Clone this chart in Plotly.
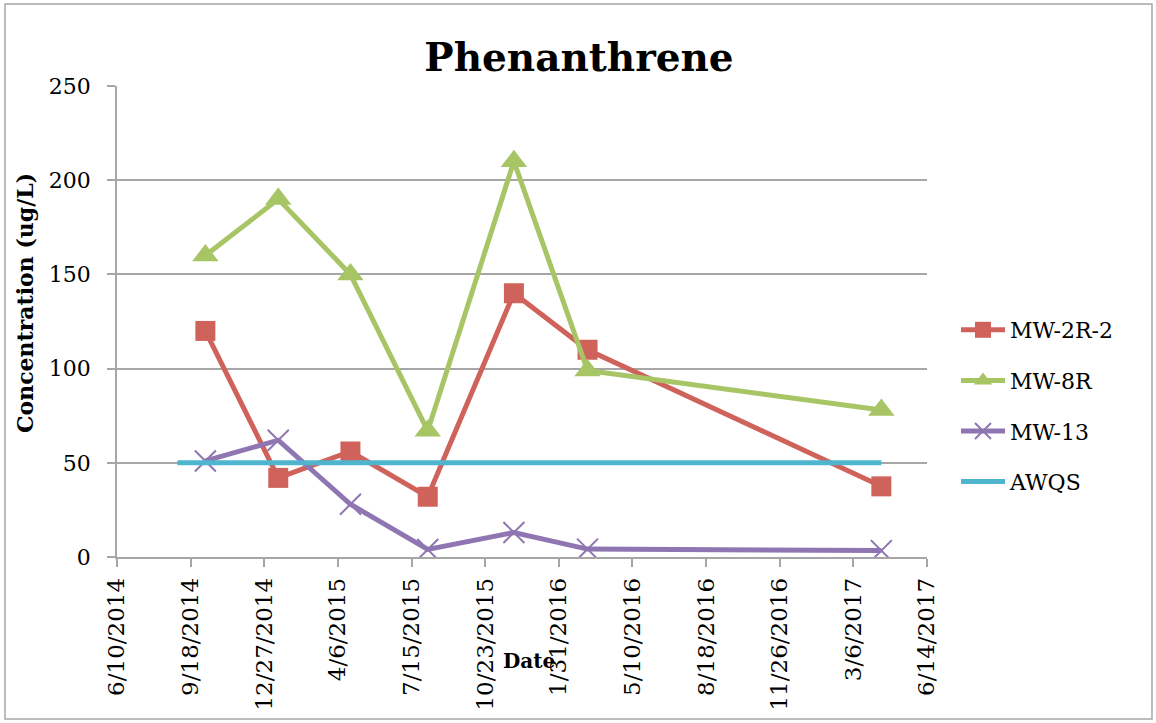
import plotly.graph_objects as go

# ---- data ----
sample_dates = ["2014-10-08", "2015-01-15", "2015-04-23", "2015-08-06",
                "2015-12-01", "2016-03-10", "2017-04-13"]
mw_2r_2 = [120, 42, 56, 32, 140, 110, 37.5]
mw_8r = [160, 190, 150, 67, 210, 99, 78]
mw_13 = [51, 62, 28, 4, 13, 4.2, 3.4]
awqs_dates = ["2014-08-31", "2016-03-10", "2017-04-13"]
awqs = [50, 50, 50]

tick_dates = ["2014-06-10", "2014-09-18", "2014-12-27", "2015-04-06", "2015-07-15",
              "2015-10-23", "2016-01-31", "2016-05-10", "2016-08-18", "2016-11-26",
              "2017-03-06", "2017-06-14"]
tick_labels = ["6/10/2014", "9/18/2014", "12/27/2014", "4/6/2015", "7/15/2015",
               "10/23/2015", "1/31/2016", "5/10/2016", "8/18/2016", "11/26/2016",
               "3/6/2017", "6/14/2017"]

FONT = "DejaVu Serif"
GRID = "#a6a6a6"

# plot area in pixels
L, R, T, B = 117, 927, 86, 557
W, H = 1156, 723

def px_x(p):
    return (p - L) / (R - L)

def px_y(p):
    return (B - p) / (B - T)

fig = go.Figure()

fig.add_trace(go.Scatter(
    x=sample_dates, y=mw_2r_2, name="MW-2R-2", mode="lines+markers",
    legendgroup="a",
    line=dict(color="#D0625C", width=5),
    marker=dict(symbol="square", size=20, color="#D0625C")))
fig.add_trace(go.Scatter(
    x=sample_dates, y=mw_8r, name="MW-8R", mode="lines+markers",
    legendgroup="b",
    line=dict(color="#A8C566", width=5),
    marker=dict(symbol="triangle-up", size=23, color="#A8C566")))
fig.add_trace(go.Scatter(
    x=sample_dates, y=mw_13, name="MW-13", mode="lines+markers",
    legendgroup="c",
    line=dict(color="#8F76B2", width=5),
    marker=dict(symbol="x-thin", size=21, color="#8F76B2",
                line=dict(color="#8F76B2", width=2))))
fig.add_trace(go.Scatter(
    x=awqs_dates, y=awqs, name="AWQS", mode="lines",
    legendgroup="d",
    line=dict(color="#4FB5CF", width=5)))

fig.update_layout(
    width=W, height=H,
    margin=dict(l=L, r=W - R, t=T, b=H - B),
    paper_bgcolor="white", plot_bgcolor="white",
    font=dict(family=FONT, color="black"),
    title=dict(text="Phenanthrene", x=579 / W, xref="container", xanchor="center",
               y=1 - 57 / H, yref="container", yanchor="middle",
               font=dict(family=FONT, size=39, weight="bold", color="black")),
    legend=dict(x=px_x(956), y=px_y(309), xanchor="left", yanchor="top",
                font=dict(family=FONT, size=22, color="black"),
                tracegroupgap=19, traceorder="grouped", itemwidth=44,
                bgcolor="rgba(0,0,0,0)"),
    showlegend=True,
)

fig.update_xaxes(
    type="date", range=["2014-06-10", "2017-06-14"],
    tickmode="array", tickvals=tick_dates, ticktext=tick_labels,
    tickangle=-90, tickfont=dict(family=FONT, size=23, color="black"),
    ticks="outside", ticklen=8, tickcolor=GRID, tickwidth=1.5,
    showline=True, linecolor=GRID, linewidth=1.5,
    showgrid=False, zeroline=False, ticklabelstandoff=2,
)
fig.update_yaxes(
    range=[0, 250], tickmode="linear", tick0=0, dtick=50,
    tickfont=dict(family=FONT, size=22, color="black"),
    ticks="outside", ticklen=8, tickcolor=GRID, tickwidth=1.5,
    showline=True, linecolor=GRID, linewidth=1.5,
    showgrid=True, gridcolor=GRID, gridwidth=1.5, zeroline=False,
    ticklabelstandoff=12,
)

# axis titles as annotations
fig.add_annotation(text="Concentration (ug/L)", xref="paper", yref="paper",
                   x=px_x(25), y=px_y(303), xanchor="center", yanchor="middle",
                   textangle=-90, showarrow=False,
                   font=dict(family=FONT, size=22, weight="bold", color="black"))
fig.add_annotation(text="Date", xref="paper", yref="paper",
                   x=px_x(529), y=px_y(661), xanchor="center", yanchor="middle",
                   showarrow=False,
                   font=dict(family=FONT, size=20, weight="bold", color="black"))

# outer chart border
fig.add_shape(type="rect", xref="paper", yref="paper",
              x0=px_x(5), x1=px_x(1152), y0=px_y(719), y1=px_y(4),
              line=dict(color="#a6a6a6", width=1.5), layer="below")

fig.write_html("out.html")
